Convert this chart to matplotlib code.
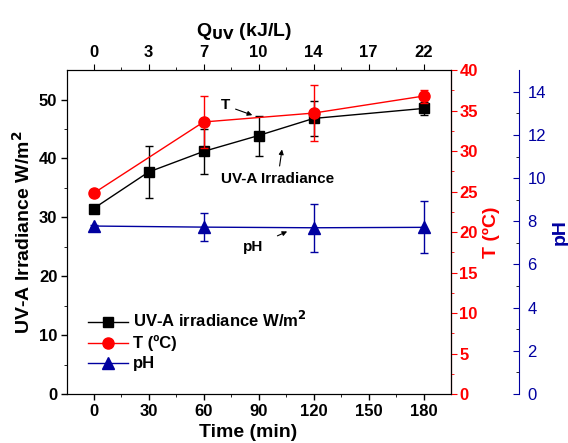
import numpy as np
import matplotlib.pyplot as plt
from matplotlib.lines import Line2D

plt.rcParams['font.family'] = ['Liberation Sans', 'DejaVu Sans']

# data
time_uv = [0, 30, 60, 90, 120, 180]
uva = [31.5, 37.7, 41.2, 43.9, 46.8, 48.5]
uva_err = [0.3, 4.4, 3.8, 3.4, 3.0, 1.1]

time_tp = [0, 60, 120, 180]
temp = [24.8, 33.6, 34.7, 36.8]
temp_err = [0.2, 3.2, 3.5, 0.8]
ph = [7.78, 7.73, 7.70, 7.72]
ph_err = [0.05, 0.65, 1.1, 1.2]

q_ticks = [0, 30, 60, 90, 120, 150, 180]
q_labels = ['0', '3', '7', '10', '14', '17', '22']

red = '#FF0000'
blue = '#0000A0'

fig = plt.figure(figsize=(5.68, 4.43), dpi=100)
ax = fig.add_axes([0.118, 0.1106, 0.676, 0.731])
ax_t = ax.twinx()
ax_p = ax.twinx()
ax_p.spines['right'].set_position(('outward', 49))

ax.errorbar(time_uv, uva, yerr=uva_err, color='black', marker='s', ms=7,
            lw=1, elinewidth=1, capsize=3)
ax_t.errorbar(time_tp, temp, yerr=temp_err, color=red, marker='o', ms=8,
              lw=1, elinewidth=1, capsize=3)
ax_p.errorbar(time_tp, ph, yerr=ph_err, color=blue, marker='^', ms=8,
              lw=1, elinewidth=1, capsize=3)

ax.set_xlim(-14.5, 195)
ax.set_ylim(0, 55)
ax_t.set_ylim(0, 40)
ax_p.set_ylim(0, 15)

ax.set_xticks(q_ticks)
ax.set_xticks(np.arange(15, 195, 30), minor=True)
ax.set_yticks(np.arange(0, 51, 10))
ax.set_yticks(np.arange(5, 55, 10), minor=True)
ax_t.set_yticks(np.arange(0, 41, 5))
ax_t.set_yticks(np.arange(2.5, 40, 5), minor=True)
ax_p.set_yticks(np.arange(0, 15, 2))
ax_p.set_yticks(np.arange(1, 15, 2), minor=True)

for lab in ax.get_xticklabels() + ax.get_yticklabels():
    lab.set_fontweight('bold')
ax.tick_params(labelsize=12, width=1, length=4, pad=3)
ax.tick_params(which='minor', length=2.5)

ax_t.tick_params(axis='y', colors=red, labelsize=12, length=4, pad=2)
ax_t.tick_params(axis='y', which='minor', colors=red, length=2.5)
for lab in ax_t.get_yticklabels():
    lab.set_fontweight('bold')
ax_t.spines['right'].set_color(red)

ax_p.tick_params(axis='y', colors=blue, labelsize=12, direction='in', length=4, pad=6)
ax_p.tick_params(axis='y', which='minor', direction='in', length=2.5)
ax_p.spines['right'].set_color(blue)
for s in ['left', 'top', 'bottom']:
    ax_p.spines[s].set_visible(False)
    ax_t.spines[s].set_visible(False)

ax.set_xlabel('Time (min)', fontsize=14, fontweight='bold', labelpad=4)
ax.xaxis.label.set_x(0.471)
ax.set_ylabel('UV-A Irradiance W/m$^\\mathbf{2}$', fontsize=14, fontweight='bold', labelpad=4)
ax_t.set_ylabel('T (ºC)', fontsize=14, fontweight='bold', color=red, labelpad=4)
ax_p.set_ylabel('pH', fontsize=14, fontweight='bold', color=blue, labelpad=4)

# top axis
top = ax.twiny()
top.set_xlim(ax.get_xlim())
top.set_xticks(q_ticks)
top.set_xticklabels(q_labels)
top.set_xticks(np.arange(15, 195, 30), minor=True)
for lab in top.get_xticklabels():
    lab.set_fontweight('bold')
top.tick_params(labelsize=12, length=4, pad=3)
top.tick_params(which='minor', length=2.5)
top.set_xlabel('Q$_{\\mathbf{UV}}$ (kJ/L)', fontsize=14, fontweight='bold', labelpad=7)
top.xaxis.label.set_x(0.461)

# annotations
arrow = dict(arrowstyle='-|>', color='black', lw=0.8, mutation_scale=7)
ax.annotate('T', xy=(88, 47.2), xytext=(72, 49.0), fontsize=11, fontweight='bold',
            ha='center', va='center', arrowprops=arrow)
ax.annotate('UV-A Irradiance', xy=(103, 42.0), xytext=(100.5, 36.6), fontsize=11,
            fontweight='bold', ha='center', va='center', arrowprops=arrow)
ax.annotate('pH', xy=(107, 27.8), xytext=(87, 25.0), fontsize=11, fontweight='bold',
            ha='center', va='center', arrowprops=dict(arrow, shrinkA=9))

handles = [Line2D([], [], color='black', marker='s', ms=7, lw=1),
           Line2D([], [], color=red, marker='o', ms=8, lw=1),
           Line2D([], [], color=blue, marker='^', ms=8, lw=1)]
labels = ['UV-A irradiance W/m$^\\mathbf{2}$', 'T (ºC)', 'pH']
leg = ax.legend(handles, labels, loc='lower left', bbox_to_anchor=(0.055, 0.07),
                frameon=False, fontsize=12, handlelength=2.4, labelspacing=0.3,
                handletextpad=0.3, borderpad=0, borderaxespad=0)
for t in leg.get_texts():
    t.set_fontweight('bold')

fig.savefig('out.png', dpi=100)
